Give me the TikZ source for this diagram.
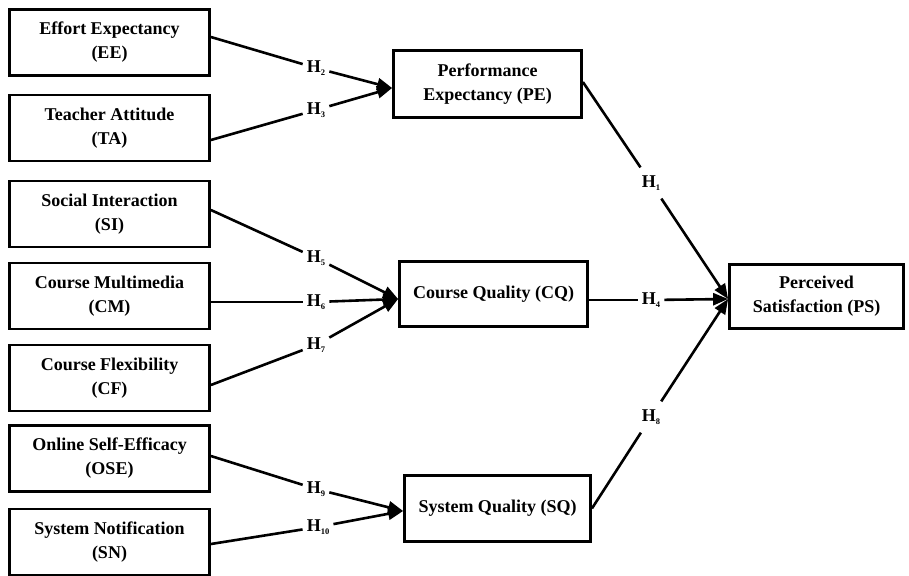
\documentclass[tikz,border=0pt]{standalone}
\usepackage{fontspec}
\setmainfont{Liberation Serif}
\usetikzlibrary{arrows.meta}
\newcommand{\hyp}[1]{H\raisebox{-3pt}{\fontsize{8.5}{8.5}\selectfont\bfseries #1}}
\begin{document}
\begin{tikzpicture}[x=1pt,y=-1pt,
  box/.style={draw, line width=2.8pt, align=center, inner sep=0pt,
    font=\fontsize{18}{24}\selectfont\bfseries},
  lbox/.style={box, minimum width=200pt, minimum height=66pt},
  hl/.style={font=\fontsize{18}{18}\selectfont\bfseries, inner sep=4pt},
  con/.style={line width=2.6pt},
  arr/.style={con, -{Triangle[length=15pt,width=12pt]}}]
\useasboundingbox (0,0) rectangle (909,575);
\fill[white] (0,0) rectangle (909,575);

% left column
\node[lbox] (ee)  at (109.5,42.5) {Effort Expectancy\\(EE)};
\node[lbox] (ta)  at (109.5,128)  {Teacher Attitude\\(TA)};
\node[lbox] (si)  at (109.5,214)  {Social Interaction\\(SI)};
\node[lbox] (cm)  at (109.5,296)  {Course Multimedia\\(CM)};
\node[lbox] (cf)  at (109.5,378)  {Course Flexibility\\(CF)};
\node[lbox] (ose) at (109.5,458.5){Online Self-Efficacy\\(OSE)};
\node[lbox] (sn)  at (109.5,542)  {System Notification\\(SN)};

% middle column
\node[box, minimum width=188pt, minimum height=67pt] (pe) at (487.5,84) {Performance\\Expectancy (PE)};
\node[box, minimum width=188pt, minimum height=65pt] (cq) at (493.5,294) {Course Quality (CQ)};
\node[box, minimum width=186pt, minimum height=66pt] (sq) at (497.5,508.5) {System Quality (SQ)};

% right
\node[box, minimum width=174pt, minimum height=64pt] (ps) at (816.5,296.5) {Perceived\\Satisfaction (PS)};

% hypothesis labels
\node[hl] (h2)  at (316,68)  {\hyp{2}};
\node[hl] (h3)  at (316,110) {\hyp{3}};
\node[hl] (h5)  at (316,258) {\hyp{5}};
\node[hl] (h6)  at (316,302) {\hyp{6}};
\node[hl] (h7)  at (316,345) {\hyp{7}};
\node[hl] (h9)  at (316,489) {\hyp{9}};
\node[hl] (h10) at (318,527) {\hyp{10}};
\node[hl, inner sep=8pt] (h1) at (651,183) {\hyp{1}};
\node[hl] (h4)  at (651,300) {\hyp{4}};
\node[hl, inner sep=8pt] (h8) at (651,417) {\hyp{8}};

% anchor points
\coordinate (eeo) at ([yshift=5.5pt]ee.east);
\coordinate (tao) at ([yshift=-12pt]ta.east);
\coordinate (pei) at ([yshift=-4pt]pe.west);
\coordinate (sio) at ([yshift=4pt]si.east);
\coordinate (cmo) at ([yshift=-6pt]cm.east);
\coordinate (cfo) at ([yshift=-7pt]cf.east);
\coordinate (cqi) at ([yshift=-5pt]cq.west);
\coordinate (oseo) at ([yshift=2.5pt]ose.east);
\coordinate (sno) at ([yshift=-2pt]sn.east);
\coordinate (sqi) at ([yshift=-2.5pt]sq.west);
\coordinate (peo) at ([yshift=2pt]pe.east);
\coordinate (cqo) at ([yshift=-6pt]cq.east);
\coordinate (sqo) at (sq.east);
\coordinate (psi) at ([yshift=-2.5pt]ps.west);

% connectors
\draw[con] (eeo) -- (h2);  \draw[arr] (h2) -- (pei);
\draw[con] (tao) -- (h3);  \draw[arr] (h3) -- (pei);
\draw[con] (sio) -- (h5);  \draw[arr] (h5) -- (cqi);
\draw[con] (cmo) -- (h6);  \draw[arr] (h6) -- (cqi);
\draw[con] (cfo) -- (h7);  \draw[arr] (h7) -- (cqi);
\draw[con] (oseo) -- (h9); \draw[arr] (h9) -- (sqi);
\draw[con] (sno) -- (h10); \draw[arr] (h10) -- (sqi);
\draw[con] (peo) -- (h1);  \draw[arr] (h1) -- (psi);
\draw[con] (cqo) -- (h4);  \draw[arr] (h4) -- (psi);
\draw[con] (sqo) -- (h8);  \draw[arr] (h8) -- (psi);
\end{tikzpicture}
\end{document}
